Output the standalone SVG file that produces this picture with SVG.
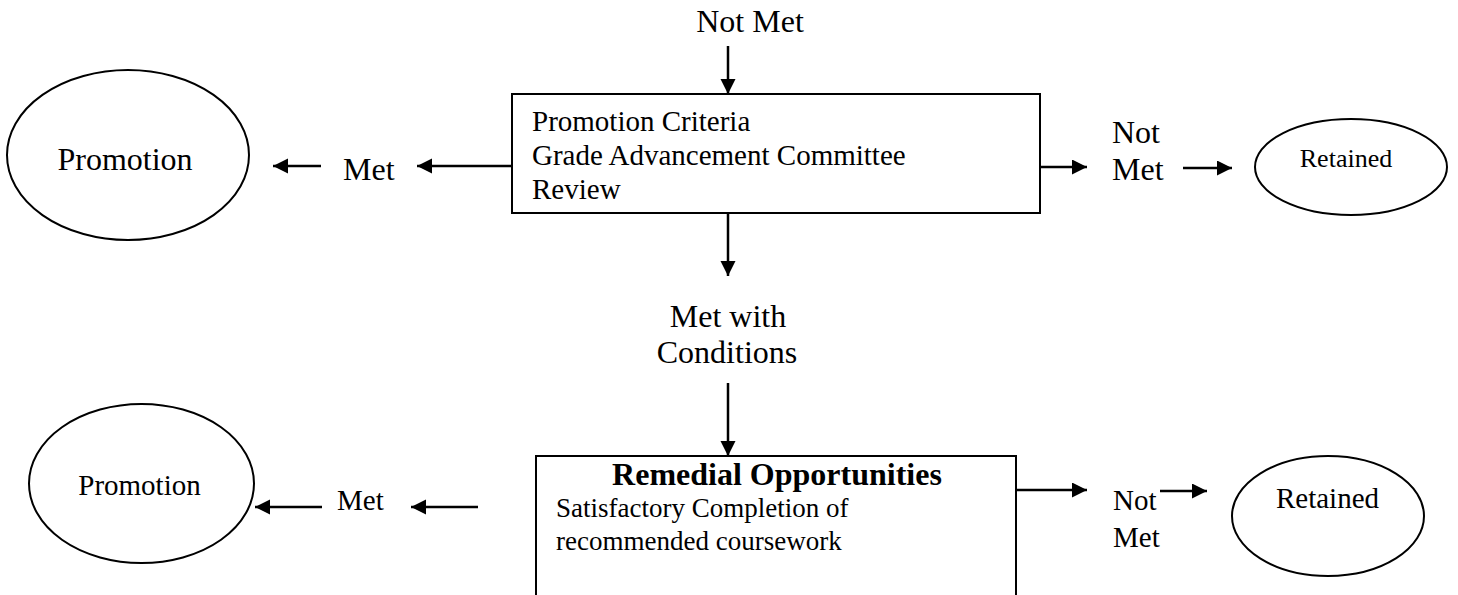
<svg xmlns="http://www.w3.org/2000/svg" width="1458" height="595" viewBox="0 0 1458 595">
<style>
text{font-family:"Liberation Serif","Times New Roman",serif;fill:#000}
.l{font-size:32px}
.m{font-size:29px}
.s{font-size:27px}
.b{font-size:32px;font-weight:bold}
.shape{fill:#fff;stroke:#000;stroke-width:2}
.c{stroke:#000;stroke-width:2.5;fill:none;marker-end:url(#ah)}
</style>
<defs>
<marker id="ah" markerUnits="userSpaceOnUse" markerWidth="16" markerHeight="16" refX="15" refY="7.5" orient="auto">
<path d="M0,0 L15,7.5 L0,15 Z" fill="#000"/>
</marker>
</defs>
<g id="connectors">
<line class="c" x1="728" y1="46" x2="728" y2="94"/>
<line class="c" x1="728" y1="213" x2="728" y2="276"/>
<line class="c" x1="512" y1="166" x2="417" y2="166"/>
<line class="c" x1="321" y1="166" x2="273" y2="166"/>
<line class="c" x1="1040" y1="167" x2="1087" y2="167"/>
<line class="c" x1="1183" y1="168" x2="1232" y2="168"/>
<line class="c" x1="728" y1="383" x2="728" y2="456"/>
<line class="c" x1="322" y1="507" x2="255" y2="507"/>
<line class="c" x1="478" y1="507" x2="411" y2="507"/>
<line class="c" x1="1015" y1="490" x2="1087" y2="490"/>
<line class="c" x1="1160" y1="491" x2="1207" y2="491"/>
</g>
<g id="labels">
<text class="l" x="750" y="32" text-anchor="middle">Not Met</text>
<text class="l" x="343" y="180">Met</text>
<text class="l" x="1112" y="143">Not</text>
<text class="l" x="1112" y="180">Met</text>
<text class="l" x="728" y="327" text-anchor="middle">Met with</text>
<text class="l" x="727" y="363" text-anchor="middle">Conditions</text>
<text class="m" x="337" y="510">Met</text>
<text class="m" x="1113" y="510">Not</text>
<text class="m" x="1113" y="547">Met</text>
</g>
<g id="review">
<rect class="shape" x="512" y="94" width="528" height="119"/>
<text class="m" x="532" y="131">Promotion Criteria</text>
<text class="m" x="532" y="165">Grade Advancement Committee</text>
<text class="m" x="532" y="199">Review</text>
</g>
<g id="promotion1">
<ellipse class="shape" cx="128" cy="155" rx="121" ry="85"/>
<text class="l" x="125" y="170" text-anchor="middle">Promotion</text>
</g>
<g id="retained1">
<ellipse class="shape" cx="1351" cy="167" rx="96" ry="48"/>
<text style="font-size:26px" x="1346" y="167" text-anchor="middle">Retained</text>
</g>
<g id="remedial">
<rect class="shape" x="536" y="456" width="480" height="150"/>
<text class="b" x="777" y="485" text-anchor="middle">Remedial Opportunities</text>
<text class="s" x="556" y="517">Satisfactory Completion of</text>
<text class="s" x="556" y="550">recommended coursework</text>
</g>
<g id="promotion2">
<ellipse class="shape" cx="141.5" cy="483.5" rx="112.5" ry="79.5"/>
<text class="m" x="139.5" y="495" text-anchor="middle">Promotion</text>
</g>
<g id="retained2">
<ellipse class="shape" cx="1328" cy="516" rx="96" ry="60"/>
<text class="m" x="1327.5" y="508" text-anchor="middle">Retained</text>
</g>
</svg>
